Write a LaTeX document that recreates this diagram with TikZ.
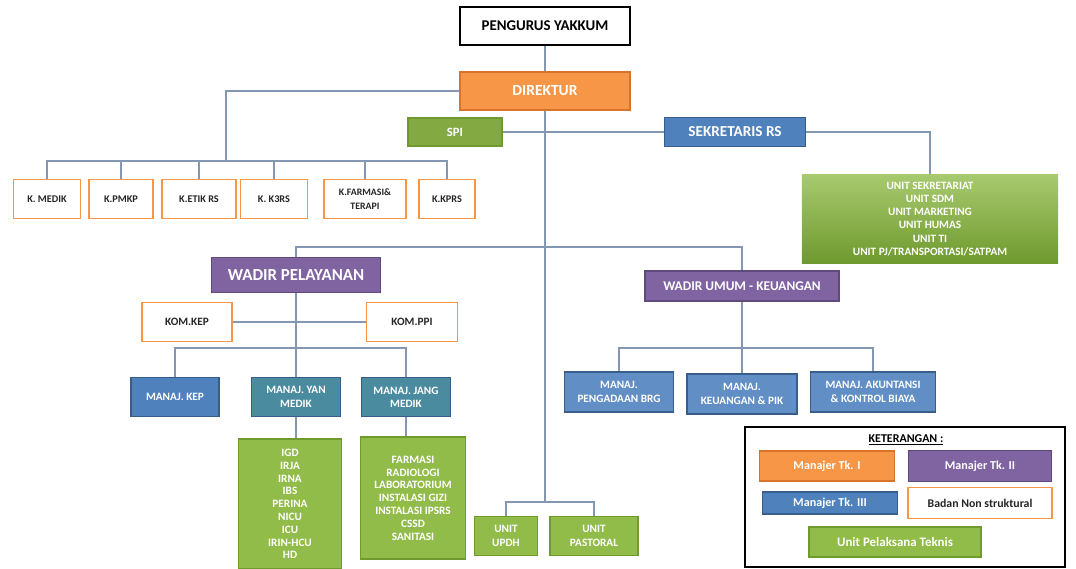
\documentclass[tikz,border=0pt]{standalone}
\usepackage{fontspec}
\setmainfont{Carlito}
\usepackage{tikz}
\usetikzlibrary{positioning}
\definecolor{tkone}{HTML}{F79646}
\definecolor{tkoneline}{HTML}{D9722A}
\definecolor{tktwo}{HTML}{8064A2}
\definecolor{tktwoline}{HTML}{5F4A7B}
\definecolor{tkthree}{HTML}{4F81BD}
\definecolor{tkthreeline}{HTML}{385D8A}
\definecolor{tkmed}{HTML}{4B8BA0}
\definecolor{upt}{HTML}{92BC4A}
\definecolor{uptline}{HTML}{6E9A2E}
\definecolor{wire}{HTML}{8497B0}
\tikzset{
wh/.style 2 args={minimum width=#1cm, minimum height=#2cm}, % box size in cm
fs/.style={font=\bfseries\fontsize{#1}{9.5}\selectfont}, % bold text of a given size
box/.style={draw, thick, inner sep=0pt, align=center, fs=8}, % every box of the chart
mgrone/.style={box, fill=tkone, draw=tkoneline, text=white}, % Manajer Tk. I
mgrtwo/.style={box, fill=tktwo, draw=tktwoline, text=white}, % Manajer Tk. II
mgrthree/.style={box, fill=tkthree, draw=tkthreeline, text=white}, % Manajer Tk. III
mgrmed/.style={box, fill=tkmed, draw=tkthreeline, text=white}, % medical managers
nonstr/.style={box, fill=white, draw=tkone, text=black!85}, % Badan Non struktural
unit/.style={box, fill=upt, draw=uptline, text=white}, % Unit Pelaksana Teknis
wire/.style={draw=wire, line width=0.9pt}, % the connectors
}

\begin{document}
\begin{tikzpicture}[x=0.025cm, y=-0.025cm]
\useasboundingbox (0,0) rectangle (1076,569);
% top of the chart
\node[box, line width=1.3pt, fill=white, text=black, wh={4.23}{0.95}, fs=10.6] (pengurus) at (545,26) {PENGURUS YAKKUM};
\node[mgrone, wh={4.25}{0.95}, fs=11] (dir) at (545,91) {DIREKTUR};
\node[unit, fill=upt!90!black, wh={2.35}{0.7}, fs=9] (spi) at (455,132) {SPI};
\node[mgrthree, wh={3.53}{0.73}, fs=10.8] (sekr) at (735,132) {SEKRETARIS RS};
% committees
\node[nonstr, wh={1.68}{0.98}, fs=7.3] (kmedik) at (47,199) {K. MEDIK};
\node[nonstr, wh={1.6}{0.98}, fs=7.3] (kpmkp) at (121,199) {K.PMKP};
\node[nonstr, wh={1.85}{0.98}, fs=7.3] (ketik) at (199,199) {K.ETIK RS};
\node[nonstr, wh={1.68}{0.98}, fs=7.3] (kkrs) at (274,199) {K. K3RS};
\node[nonstr, wh={2.05}{0.98}, fs=7] (kfarm) at (365,199) {K.FARMASI\&\\TERAPI};
\node[nonstr, wh={1.4}{0.98}, fs=7.3] (kkprs) at (447,199) {K.KPRS};
\node[unit, draw=none, top color=upt!80!white, bottom color=uptline, wh={6.4}{2.2}, font=\bfseries\fontsize{8}{9.3}\selectfont] (units) at (930,219)
    {UNIT SEKRETARIAT\\UNIT SDM\\UNIT MARKETING\\UNIT HUMAS\\UNIT TI\\UNIT PJ/TRANSPORTASI/SATPAM};
% wakil direktur
\node[mgrtwo, wh={4.23}{0.88}, fs=12] (wpel) at (296,275) {WADIR PELAYANAN};
\node[mgrtwo, wh={4.85}{0.75}, fs=9.5] (wumum) at (742,286) {WADIR UMUM - KEUANGAN};
\node[nonstr, wh={2.25}{0.98}] (komkep) at (187,322) {KOM.KEP};
\node[nonstr, wh={2.28}{0.98}] (komppi) at (412,322) {KOM.PPI};
% managers
\node[mgrthree, wh={2.2}{0.98}] (mankep) at (175,397) {MANAJ. KEP};
\node[mgrmed, wh={2.23}{0.98}] (yanmed) at (296,397) {MANAJ. YAN\\MEDIK};
\node[mgrmed, wh={2.23}{0.98}] (jangmed) at (406,397) {MANAJ. JANG\\MEDIK};
\node[mgrthree, fill=tkthree!90!white, wh={2.73}{1.0}] (pengadaan) at (619,392) {MANAJ.\\PENGADAAN BRG};
\node[mgrthree, fill=tkthree!90!white, wh={2.75}{1.0}] (keu) at (742,394) {MANAJ.\\KEUANGAN \& PIK};
\node[mgrthree, fill=tkthree!90!white, wh={3.13}{1.0}] (akuntansi) at (873,392) {MANAJ. AKUNTANSI\\\& KONTROL BIAYA};
% installations and units
\node[unit, wh={2.58}{3.25}, font=\bfseries\fontsize{8}{9.1}\selectfont] (inst1) at (290,504) {IGD\\IRJA\\IRNA\\IBS\\PERINA\\NICU\\ICU\\IRIN-HCU\\HD};
\node[unit, wh={2.63}{3.05}, font=\bfseries\fontsize{8}{9.1}\selectfont] (inst2) at (413,498) {FARMASI\\RADIOLOGI\\LABORATORIUM\\INSTALASI GIZI\\INSTALASI IPSRS\\CSSD\\SANITASI};
\node[unit, wh={1.58}{0.98}] (updh) at (506,536) {UNIT\\UPDH};
\node[unit, wh={2.2}{0.98}] (pastoral) at (594,536) {UNIT\\PASTORAL};
% connectors
\coordinate (kbar) at (226,161);
\coordinate (wbar) at (545,247);
\coordinate (mbar) at (296,348);
\coordinate (fbar) at (742,348);
\coordinate (ubar) at (545,502);
\path[wire]
    (pengurus) -- (dir)
    (dir) -- (ubar)
    (dir) -| (kbar)
    (kmedik) |- (kbar) -| (kkprs)
    (spi) -- (sekr)
    (sekr) -| (units)
    (wpel) |- (wbar) -| (wumum)
    (wpel) -- (yanmed)
    (komkep) -- (komppi)
    (mankep) |- (mbar) -| (jangmed)
    (yanmed) -- (yanmed |- inst1.north)
    (jangmed) -- (jangmed |- inst2.north)
    (wumum) -- (keu)
    (pengadaan) |- (fbar) -| (akuntansi)
    (updh) |- (ubar) -| (pastoral)
    ;
\foreach \n in {kpmkp,ketik,kkrs,kfarm}
    \path[wire] (\n) -- (\n |- kbar);
% legend
\node[draw, line width=1.5pt, wh={7.98}{3.48}] (ket) at (905,497) {};
\node[fs=8.5] (kettitle) at (906,440) {\underline{KETERANGAN :}};
\node[mgrone, wh={3.38}{0.75}, fs=8.6] (tk1) at (827,466) {Manajer Tk. I};
\node[mgrtwo, wh={3.58}{0.78}, fs=8.6] (tk2) at (980,466) {Manajer Tk. II};
\node[mgrthree, wh={3.38}{0.55}, fs=8.6] (tk3) at (830,503) {Manajer Tk. III};
\node[nonstr, wh={3.6}{0.78}, fs=8.4] (nonstruk) at (980,503) {Badan Non struktural};
\node[unit, wh={4.3}{0.75}, fs=9.2] (uptkey) at (895,542) {Unit Pelaksana Teknis};
\end{tikzpicture}
\end{document}
